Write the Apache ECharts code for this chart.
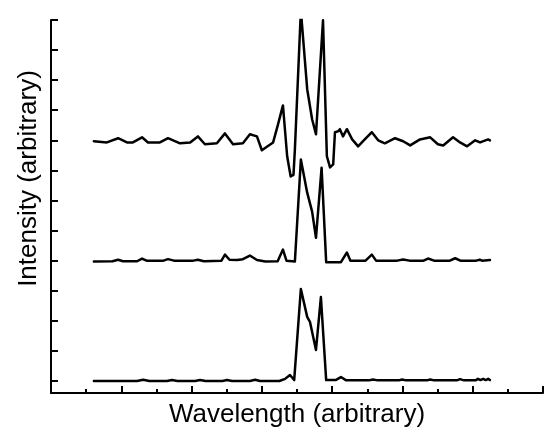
<!DOCTYPE html>
<html>
<head>
<meta charset="utf-8">
<script src="https://cdn.jsdelivr.net/npm/echarts@6/dist/echarts.min.js"></script>
<style>
html,body{margin:0;padding:0;background:#fff;}
#chart{width:546px;height:427px;}
</style>
</head>
<body>
<div id="chart"></div>
<script>
// Spectra: [wavelength (arbitrary), intensity (arbitrary, before vertical offset)]
var bottomTrace = [[1.22,0],[2.45,0],[2.62,0.04],[2.80,0],[3.30,0],[3.44,0.03],[3.60,0],[4.10,0],[4.24,0.03],[4.40,0],[4.88,0],[5.01,0.03],[5.15,0],[5.66,0],[5.81,0.04],[5.95,0],[6.50,0],[6.66,0.07],[6.80,0.20],[6.92,0.03],[6.97,0],[7.11,3.06],[7.29,2.13],[7.37,1.96],[7.54,1.03],[7.68,2.79],[7.83,0.03],[8.10,0.03],[8.25,0.13],[8.40,0.02],[9.05,0.02],[9.16,0.05],[9.30,0.02],[9.90,0.02],[9.99,0.05],[10.10,0.02],[10.70,0.02],[10.79,0.05],[10.90,0.02],[11.55,0.02],[11.64,0.06],[11.75,0.02],[12.08,0.02],[12.15,0.07],[12.22,0.03],[12.30,0.07],[12.37,0.03],[12.44,0.07],[12.49,0.03]];
var middleTrace = [[1.22,-0.03],[1.75,-0.02],[1.91,0.03],[2.05,-0.02],[2.45,-0.02],[2.59,0.07],[2.72,0],[3.20,0],[3.33,0.05],[3.50,0],[4.05,0],[4.18,0.03],[4.35,-0.02],[4.85,0],[4.95,0.2],[5.08,0.03],[5.30,0.02],[5.46,0.05],[5.66,0.17],[5.86,0.02],[6.10,-0.03],[6.45,-0.02],[6.60,0.37],[6.70,0],[6.94,-0.03],[7.11,3.36],[7.29,2.26],[7.43,1.63],[7.54,0.76],[7.70,3.09],[7.83,-0.05],[8.25,-0.05],[8.42,0.27],[8.52,0.0],[8.95,0.0],[9.13,0.2],[9.25,0.0],[9.85,0],[10.02,0.04],[10.2,0],[10.6,0],[10.73,0.07],[10.9,0.0],[11.35,0.0],[11.50,0.08],[11.65,0.0],[12.10,0],[12.20,0.03],[12.27,0],[12.49,0.02]];
var topTrace = [[1.22,-0.03],[1.59,-0.07],[1.91,0.07],[2.16,-0.07],[2.33,-0.07],[2.59,0.10],[2.76,-0.07],[3.10,-0.07],[3.33,0.07],[3.67,-0.10],[3.96,-0.07],[4.18,0.13],[4.38,-0.13],[4.72,-0.10],[4.95,0.23],[5.18,-0.13],[5.46,-0.10],[5.66,0.20],[5.86,0.13],[6.00,-0.33],[6.32,-0.07],[6.46,0.53],[6.60,1.16],[6.72,-0.53],[6.82,-1.20],[6.90,-1.15],[6.94,-0.30],[7.11,4.32],[7.29,1.70],[7.43,0.70],[7.54,0.20],[7.74,3.99],[7.85,-0.53],[7.94,-0.90],[8.03,-0.80],[8.08,0.27],[8.17,0.30],[8.22,0.37],[8.31,0.13],[8.42,0.37],[8.57,0.03],[8.74,-0.20],[8.88,-0.03],[9.13,0.27],[9.31,0.00],[9.50,-0.10],[9.79,0.07],[10.02,-0.03],[10.22,-0.17],[10.50,0.03],[10.79,0.10],[11.01,-0.13],[11.16,-0.17],[11.44,0.10],[11.64,-0.07],[11.84,-0.20],[12.07,0.00],[12.21,-0.07],[12.44,0.03],[12.49,0.00]];
var traceOffsets = [0, 4, 8];
var yTickValues = [0,1,2,3,4,5,6,7,8,9,10,11,12];
var xTitle = 'Wavelength (arbitrary)';
var yTitle = 'Intensity (arbitrary)';

var traces = [bottomTrace, middleTrace, topTrace];
var series = traces.map(function (t, i) {
  return {
    type: 'line',
    data: t.map(function (p) { return [p[0], p[1] + traceOffsets[i]]; }),
    showSymbol: false,
    symbol: 'none',
    smooth: false,
    silent: true,
    lineStyle: { color: '#000', width: 2.5, join: 'round', cap: 'round' },
    itemStyle: { color: '#000' }
  };
});

var chart = echarts.init(document.getElementById('chart'), null, { renderer: 'canvas' });
chart.setOption({
  animation: false,
  backgroundColor: '#fff',
  grid: { left: 51, right: 3, top: 20, bottom: 34, containLabel: false, outerBoundsMode: 'none' },
  xAxis: {
    type: 'value', min: 0, max: 14, interval: 2,
    name: xTitle, nameLocation: 'middle', nameGap: 9,
    nameTextStyle: { fontFamily: 'Liberation Sans', fontSize: 26, color: '#000' },
    axisLine: { show: true, onZero: false, lineStyle: { color: '#000', width: 2 } },
    axisTick: { show: true, inside: true, length: 7, lineStyle: { color: '#000', width: 2 } },
    minorTick: { show: true, splitNumber: 2, length: 4, lineStyle: { color: '#000', width: 2 } },
    axisLabel: { show: false },
    splitLine: { show: false },
    minorSplitLine: { show: false }
  },
  yAxis: {
    type: 'value', min: -0.4, max: 12,
    name: yTitle, nameLocation: 'middle', nameGap: 9, nameRotate: 90,
    nameTextStyle: { fontFamily: 'Liberation Sans', fontSize: 26, color: '#000', padding: [0, 0, 0, 56] },
    axisLine: { show: true, onZero: false, lineStyle: { color: '#000', width: 2 } },
    axisTick: { show: true, inside: true, length: 7, customValues: yTickValues, lineStyle: { color: '#000', width: 2 } },
    axisLabel: { show: false, customValues: yTickValues },
    splitLine: { show: false }
  },
  series: series
});
</script>
</body>
</html>
